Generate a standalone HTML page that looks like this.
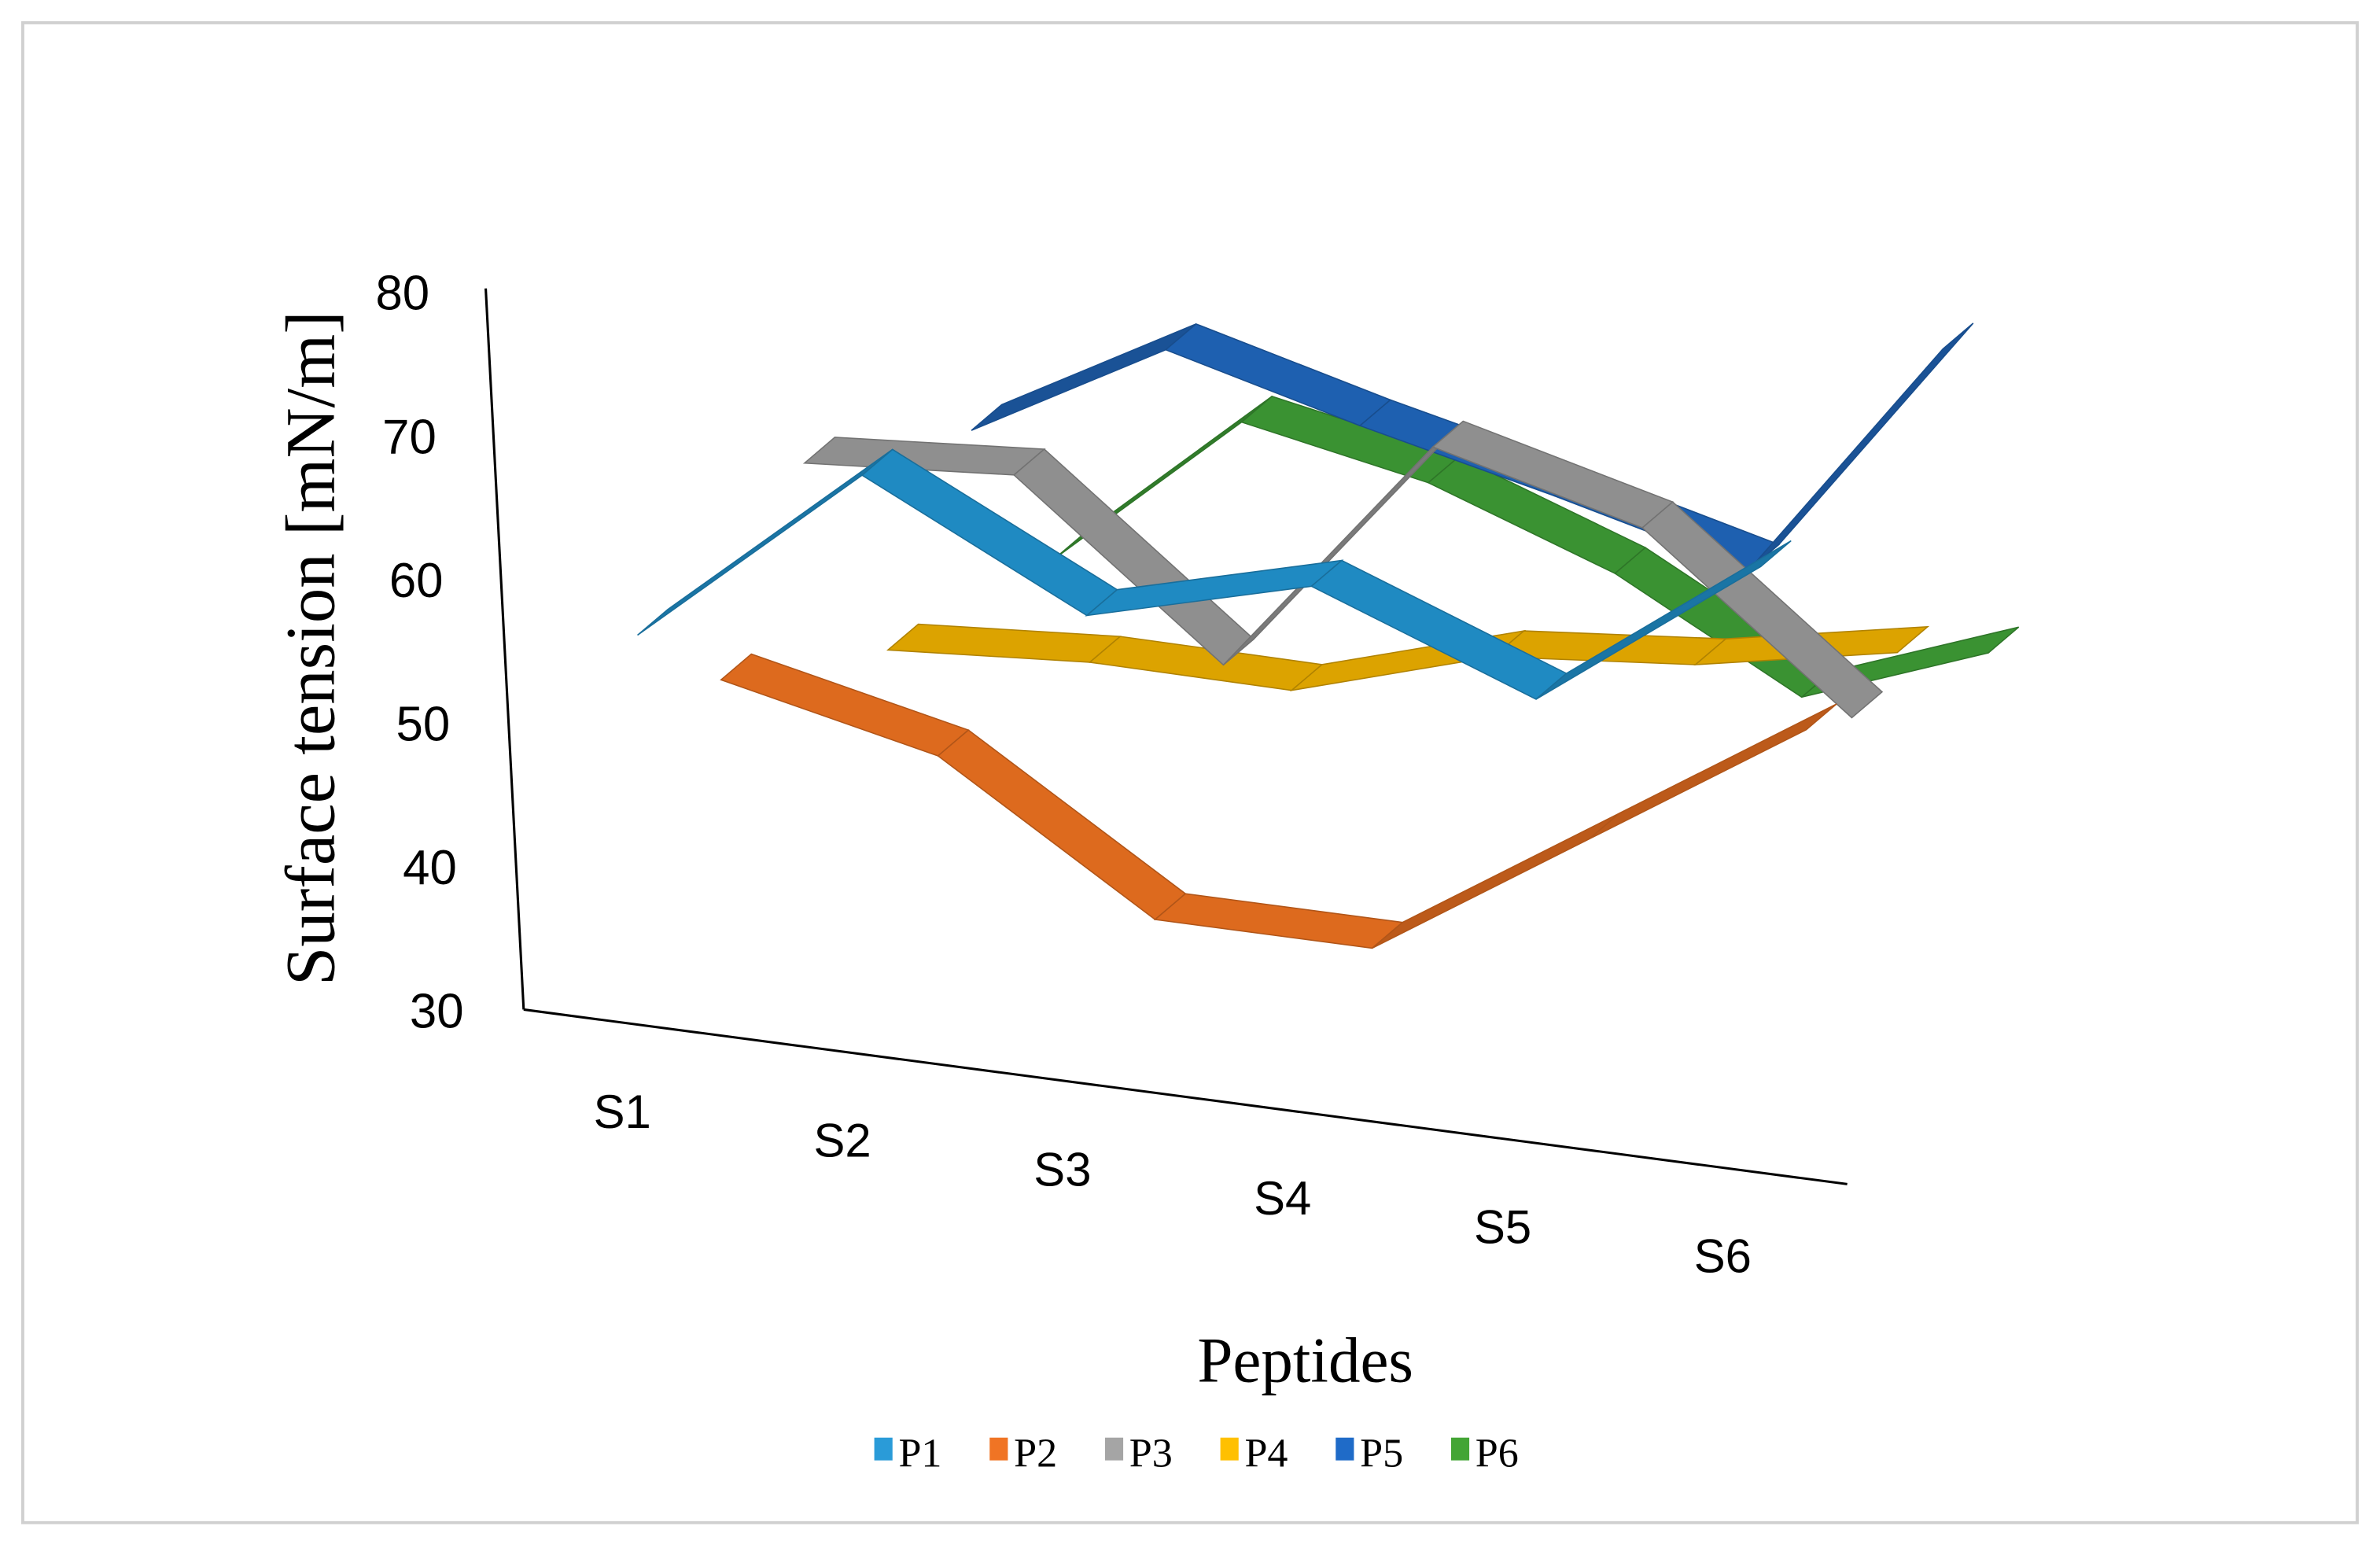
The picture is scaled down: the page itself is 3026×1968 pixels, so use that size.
<!DOCTYPE html>
<html><head><meta charset="utf-8"><style>
html,body{margin:0;padding:0;background:#fff}
svg{display:block}
</style></head><body>
<svg id="chart" width="3026" height="1968" viewBox="0 0 1568 1019.7" preserveAspectRatio="none" xmlns="http://www.w3.org/2000/svg">
<rect x="15" y="15" width="1538" height="988" fill="#fff" stroke="#d0d0d0" stroke-width="2"/>
<g id="axes">
<line x1="320" y1="190" x2="345" y2="665" stroke="#000" stroke-width="1.6"/>
<line x1="345" y1="665" x2="1217" y2="780" stroke="#000" stroke-width="1.6"/>
</g>
<g id="yticks" font-family="Liberation Sans, sans-serif" font-size="32" fill="#000"></g>
<g id="xticks" font-family="Liberation Sans, sans-serif" font-size="31" fill="#000"></g>
<g id="series"></g>
<text transform="translate(220,427) rotate(-90)" text-anchor="middle" font-family="Liberation Serif, serif" font-size="46" fill="#000">Surface  tension [mN/m]</text>
<text x="860" y="910" text-anchor="middle" font-family="Liberation Serif, serif" font-size="42" fill="#000">Peptides</text>
<g id="legend" font-family="Liberation Serif, serif" font-size="27" fill="#000"></g>
</svg>
<script>
const categories = ["S1","S2","S3","S4","S5","S6"];
const seriesNames = ["P1","P2","P3","P4","P5","P6"];
const p1 = [58.1, 71.3, 63.6, 67.7, 61.9, 73.2];
const p2 = [54.7, 51.4, 42.0, 42.0, 51.6, 61.2];
const p3 = [69.5, 70.6, 59.3, 76.4, 72.7, 61.4];
const p4 = [56.2, 57.2, 57.1, 61.3, 62.6, 65.3];
const p5 = [71.2, 78.6, 75.1, 72.0, 68.6, 85.8];
const p6 = [62.0, 73.2, 70.7, 66.1, 59.2, 64.0];
const yTicks = [80, 70, 60, 50, 40, 30];
const colors = ["#1f8ac2","#dd6a1e","#8f8f8f","#dca300","#1e60b0","#3a9232"];
const legendColors = ["#2a9bd8","#f07424","#a5a5a5","#ffc000","#1f6bc8","#43a535"];
const seriesData = [p1,p2,p3,p4,p5,p6];

const NS = "http://www.w3.org/2000/svg";
function px(i,j){ return 420 + i*148 + j*(55 - 5*i); }
function py(i,j,v){ const x = px(i,j) + 10; return 665 + 0.132*(x-345) - 10*j - (v-30)*9.46 + 8; }
function axisY(v){ return 665 - (v-30)*9.46; }
function shade(hex,f){ const n=parseInt(hex.slice(1),16); let r=(n>>16)&255,g=(n>>8)&255,b=n&255; r=Math.round(r*f);g=Math.round(g*f);b=Math.round(b*f); return "rgb("+r+","+g+","+b+")"; }

const yt = document.getElementById('yticks');
yTicks.forEach(t=>{
  const el = document.createElementNS(NS,'text');
  
  
  const y = axisY(t);
  el.setAttribute('x', 283 + (80-t)*0.45);
  el.setAttribute('y', y + 12);
  el.setAttribute('text-anchor','end');
  el.textContent = t;
  yt.appendChild(el);
});
const xt = document.getElementById('xticks');
categories.forEach((c,i)=>{
  const el = document.createElementNS(NS,'text');
  
  
  el.setAttribute('x', 410 + i*145);
  el.setAttribute('y', 743 + i*19);
  el.setAttribute('text-anchor','middle');
  el.textContent = c;
  xt.appendChild(el);
});

const sg = document.getElementById('series');
const dx = 20, dy = -17;
for (let j = seriesData.length-1; j >= 0; j--) {
  const g = document.createElementNS(NS,'g');
  
  
  const vals = seriesData[j];
  for (let i = 0; i < vals.length-1; i++) {
    const ax = px(i,j), ay = py(i,j,vals[i]);
    const bx = px(i+1,j), by = py(i+1,j,vals[i+1]);
    const poly = document.createElementNS(NS,'polygon');
    
    
    poly.setAttribute('points', [ax,ay, bx,by, bx+dx,by+dy, ax+dx,ay+dy].join(' '));
    const slope = (by-ay)/(bx-ax);
    poly.setAttribute('fill', slope < -0.3 ? shade(colors[j],0.85) : colors[j]);
    poly.setAttribute('stroke', shade(colors[j],0.8));
    poly.setAttribute('stroke-width','0.8');
    g.appendChild(poly);
  }
  sg.appendChild(g);
}

const lg = document.getElementById('legend');
seriesNames.forEach((n,k)=>{
  const x0 = 576 + k*76;
  const r = document.createElementNS(NS,'rect');
  
  
  r.setAttribute('x', x0); r.setAttribute('y', 947);
  r.setAttribute('width', 12); r.setAttribute('height', 15);
  r.setAttribute('fill', legendColors[k]);
  lg.appendChild(r);
  const t = document.createElementNS(NS,'text');
  
  
  t.setAttribute('x', x0 + 16); t.setAttribute('y', 966);
  t.textContent = n;
  lg.appendChild(t);
});
</script>
</body></html>
